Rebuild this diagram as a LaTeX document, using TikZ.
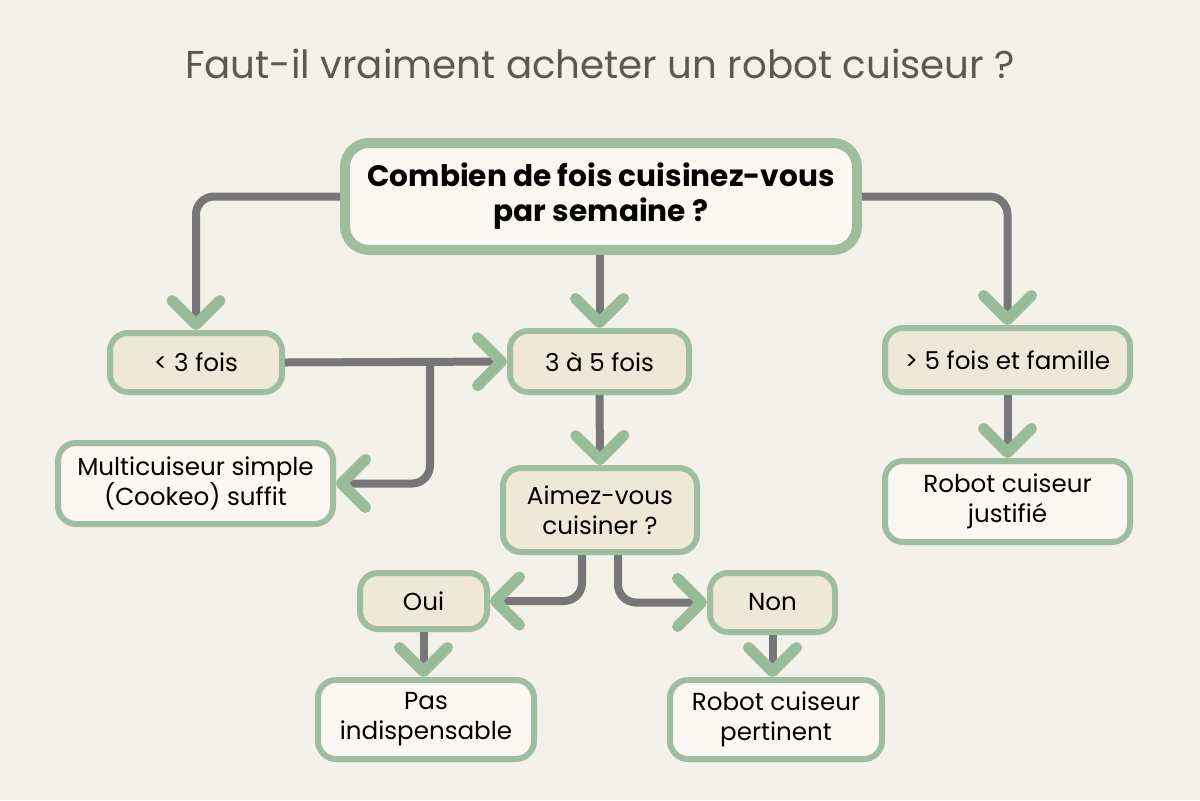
\documentclass[tikz,border=0pt]{standalone}
\usepackage{fontspec}
\setmainfont{Poppins}
\usetikzlibrary{arrows.meta}
\definecolor{bg}{HTML}{F4F1E8}
\definecolor{bordergreen}{HTML}{9DBF9F}
\definecolor{arrgreen}{HTML}{97BC9A}
\definecolor{linegray}{HTML}{777777}
\definecolor{beige}{HTML}{EFE8D8}
\definecolor{light}{HTML}{FAF8F1}
\definecolor{titlegray}{HTML}{5A5A52}
\tikzset{
  box/.style={draw=bordergreen, line width=3pt, rounded corners=9pt, align=center,
    font=\fontsize{12.3}{15}\selectfont, text=black, inner sep=2pt},
  qbox/.style={box, fill=beige},
  abox/.style={box, fill=light},
  conn/.style={draw=linegray, line width=4pt, rounded corners=9pt,
    -{Straight Barb[length=12pt,width=24pt,line width=5.5pt,color=arrgreen,round]}},
  plain/.style={draw=linegray, line width=4pt, rounded corners=9pt}
}
\begin{document}
\begin{tikzpicture}[x=0.5pt,y=-0.5pt]
\fill[bg] (0,0) rectangle (1200,800);
\useasboundingbox (0,0) rectangle (1200,800);
\node[font=\fontsize{19.4}{22}\selectfont, text=titlegray] (title) at (600,64) {Faut-il vraiment acheter un robot cuiseur ?};
\node[box, fill=light, line width=5pt, rounded corners=12pt, minimum width=256pt, minimum height=53.5pt,
  font=\fontsize{14.8}{17.5}\bfseries\selectfont] (top) at (601,196.5) {Combien de fois cuisinez-vous\\par semaine ?};
\node[qbox, minimum width=86pt, minimum height=29.5pt] (lt) at (196,362.5) {< 3 fois};
\node[qbox, minimum width=89.5pt, minimum height=30.5pt] (mid) at (599.5,361.5) {3 à 5 fois};
\node[qbox, minimum width=122.5pt, minimum height=32pt] (gt) at (1007.5,360) {> 5 fois et famille};
\node[abox, minimum width=137.5pt, minimum height=40.5pt] (multi) at (195.5,483.5) {Multicuiseur simple\\(Cookeo) suffit};
\node[qbox, minimum width=97pt, minimum height=42pt] (aimez) at (600,510) {Aimez-vous\\cuisiner ?};
\node[abox, minimum width=122.5pt, minimum height=40.5pt] (just) at (1007.5,501.5) {Robot cuiseur\\justifié};
\node[qbox, minimum width=63.5pt, minimum height=28pt] (oui) at (423.5,601) {Oui};
\node[qbox, minimum width=62.5pt, minimum height=29.5pt] (non) at (772.5,602.5) {Non};
\node[abox, minimum width=108pt, minimum height=39.5pt] (pas) at (426,719.5) {Pas\\indispensable};
\node[abox, minimum width=106pt, minimum height=39.5pt] (pert) at (776,719.5) {Robot cuiseur\\pertinent};
\coordinate (br) at (430,362);
\path[conn] (top.west) -| (lt.north);
\path[conn] (top.south -| mid.north) -- (mid.north);
\path[conn] (top.east) -| (gt.north);
\path[conn] (lt.east) -- (mid.west);
\path[conn] ([yshift=-2pt]br) |- (multi.east);
\path[conn] (mid.south) -- (aimez.north);
\path[conn] ([xshift=-9pt]aimez.south) |- (oui.east);
\path[conn] ([xshift=9pt]aimez.south) |- (non.west);
\path[conn] (oui.south) -- (oui.south |- pas.north);
\path[conn] (non.south) -- (non.south |- pert.north);
\path[conn] (gt.south) -- (just.north);
\end{tikzpicture}
\end{document}
